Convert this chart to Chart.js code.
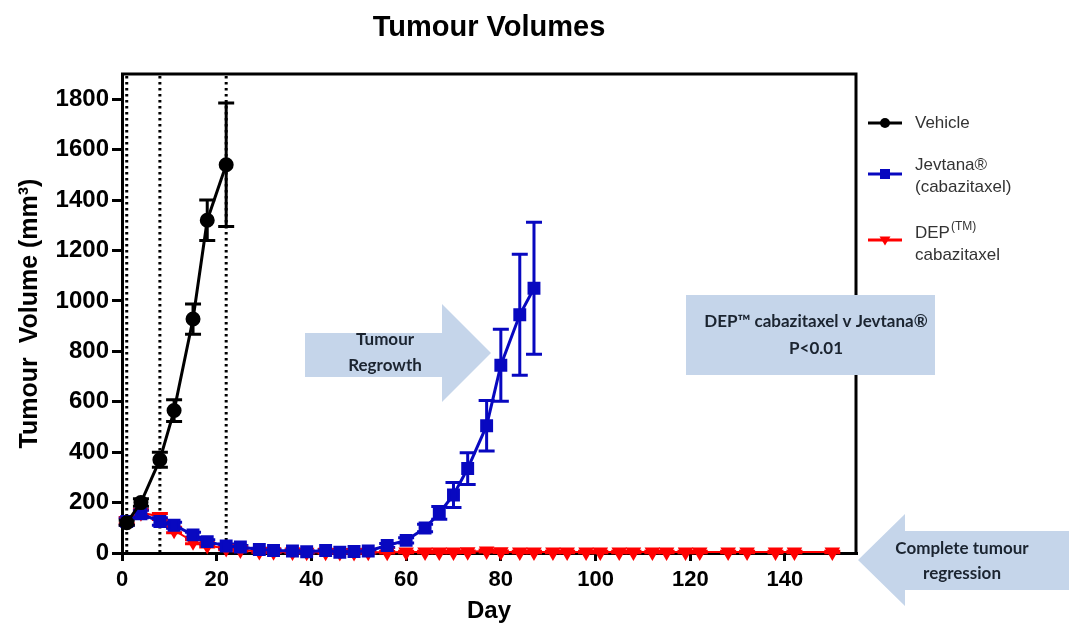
<!DOCTYPE html>
<html><head><meta charset="utf-8">
<script src="https://cdn.jsdelivr.net/npm/chart.js@4.4.0/dist/chart.umd.min.js"></script>
<style>html,body{margin:0;padding:0;background:#fff;}#wrap{position:relative;width:1069px;height:628px;}</style>
</head><body><div id="wrap"><canvas id="c" width="1069" height="628"></canvas></div>
<script>
// ---- data ----
const chartTitle = "Tumour Volumes";
const xTitle = "Day";
const yTitle = "Tumour  Volume (mm³)";
const treatmentDays = [1, 8, 22];

const vehicleDays = [1, 4, 8, 11, 15, 18, 22];
const vehicleVol  = [120, 200, 370, 565, 928, 1320, 1540];
const vehicleErr  = [10, 15, 30, 43, 60, 80, 245];

const jevDays = [1, 4, 8, 11, 15, 18, 22, 25, 29, 32, 36, 39, 43, 46, 49, 52, 56, 60, 64, 67, 70, 73, 77, 80, 84, 87];
const jevVol  = [125, 155, 125, 110, 72, 45, 28, 24, 14, 10, 8, 5, 10, 3, 6, 8, 30, 50, 99, 159, 230, 335, 505, 745, 945, 1050];
const jevErr  = [15, 15, 15, 12, 10, 8, 8, 6, 5, 5, 4, 4, 4, 3, 3, 4, 8, 10, 15, 25, 50, 63, 100, 143, 240, 262];

const depDays = [1, 4, 8, 11, 15, 18, 22, 25, 29, 32, 36, 39, 43, 46, 49, 52, 56, 60, 64, 67, 70, 73, 77, 80, 84, 87, 91, 94, 98, 101, 105, 108, 112, 115, 119, 122, 128, 132, 138, 142, 150];
const depVol  = [128, 160, 145, 90, 45, 30, 18, 12, 6, 5, 4, 3, 3, 2, 2, 3, 3, 4, 4, 4, 4, 5, 8, 5, 4, 4, 4, 4, 4, 4, 4, 4, 4, 4, 4, 4, 4, 4, 4, 4, 4];
const depErr  = [12, 12, 12, 10, 8, 6, 5, 4, 3, 3, 3, 3, 3, 3, 3, 3, 3, 3, 3, 3, 3, 3, 4, 3, 3, 3, 3, 3, 3, 3, 3, 3, 3, 3, 3, 3, 3, 3, 3, 3, 3];

const legendLabels = [["Vehicle"], ["Jevtana®", "(cabazitaxel)"], ["DEP", "cabazitaxel"]];

const annoRegrowth = ["Tumour", "Regrowth"];
const annoStats = ["DEP™ cabazitaxel v Jevtana®", "P<0.01"];
const annoComplete = ["Complete tumour", "regression"];

const FONT = "'Liberation Sans', Arial, sans-serif";
const toPts = (xs, ys) => xs.map((d, i) => ({x: d, y: ys[i]}));

// ---- plugins ----
const errorBars = {
  id: 'errorBars',
  beforeDatasetsDraw(chart) {
    const {ctx, scales: {x, y}} = chart;
    for (let i = chart.data.datasets.length - 1; i >= 0; i--) {
      const ds = chart.data.datasets[i];
      ctx.save();
      ctx.strokeStyle = ds.borderColor; ctx.lineWidth = 3;
      ds.data.forEach((p, j) => {
        const e = ds.errors[j];
        const px = x.getPixelForValue(p.x);
        const t = y.getPixelForValue(p.y + e), b = y.getPixelForValue(Math.max(0, p.y - e));
        ctx.beginPath();
        ctx.moveTo(px, t); ctx.lineTo(px, b);
        ctx.moveTo(px - 8, t); ctx.lineTo(px + 8, t);
        ctx.moveTo(px - 8, b); ctx.lineTo(px + 8, b);
        ctx.stroke();
      });
      ctx.restore();
    }
  }
};

const frame = {
  id: 'frame',
  beforeDatasetsDraw(chart) {
    const {ctx, chartArea: a, scales: {x}} = chart;
    ctx.save();
    ctx.strokeStyle = '#000'; ctx.lineWidth = 3;
    ctx.setLineDash([2.5, 3.5]);
    treatmentDays.forEach(d => {
      const px = x.getPixelForValue(d);
      ctx.beginPath(); ctx.moveTo(px, a.top + 2); ctx.lineTo(px, a.bottom); ctx.stroke();
    });
    ctx.setLineDash([]);
    ctx.beginPath();
    ctx.moveTo(a.left - 1, a.top); ctx.lineTo(a.right, a.top); ctx.lineTo(a.right, a.bottom);
    ctx.stroke();
    ctx.restore();
  }
};

function marker(ctx, style, cx, cy, r, color) {
  ctx.fillStyle = color;
  ctx.beginPath();
  if (style === 'circle') ctx.arc(cx, cy, r, 0, Math.PI * 2);
  else if (style === 'rect') ctx.rect(cx - r, cy - r, 2 * r, 2 * r);
  else { ctx.moveTo(cx - r * 1.1, cy - r * 0.7); ctx.lineTo(cx + r * 1.1, cy - r * 0.7); ctx.lineTo(cx, cy + r * 1.1); ctx.closePath(); }
  ctx.fill();
}

function rightArrow(ctx, x0, bodyTop, bodyBot, headX, headTop, headBot, tipX, tipY) {
  ctx.beginPath();
  ctx.moveTo(x0, bodyTop); ctx.lineTo(headX, bodyTop); ctx.lineTo(headX, headTop);
  ctx.lineTo(tipX, tipY); ctx.lineTo(headX, headBot); ctx.lineTo(headX, bodyBot);
  ctx.lineTo(x0, bodyBot); ctx.closePath(); ctx.fill();
}

const overlay = {
  id: 'overlay',
  afterDraw(chart) {
    const {ctx, chartArea: a} = chart;
    ctx.save();
    // title
    ctx.fillStyle = '#000';
    ctx.font = `bold 29px ${FONT}`;
    ctx.textAlign = 'center'; ctx.textBaseline = 'middle';
    ctx.fillText(chartTitle, (a.left + a.right) / 2, 28);

    // legend
    const ds = chart.data.datasets;
    const ys = [123, 174, 240];
    const lines = [[123], [165, 187], [233, 255]];
    ds.forEach((d, i) => {
      ctx.strokeStyle = d.borderColor; ctx.lineWidth = 3;
      ctx.beginPath(); ctx.moveTo(868, ys[i]); ctx.lineTo(902, ys[i]); ctx.stroke();
      marker(ctx, d.legendStyle, 885, ys[i], 5, d.borderColor);
      ctx.fillStyle = '#333';
      ctx.font = `17px ${FONT}`;
      ctx.textAlign = 'left'; ctx.textBaseline = 'middle';
      legendLabels[i].forEach((t, k) => ctx.fillText(t, 915, lines[i][k]));
    });
    // (TM) superscript after DEP
    ctx.font = `17px ${FONT}`;
    const w = ctx.measureText(legendLabels[2][0]).width;
    ctx.font = `12px ${FONT}`;
    ctx.fillText("(TM)", 915 + w + 1, 227);

    // annotations
    const fill = '#c5d5ea';
    ctx.fillStyle = fill;
    rightArrow(ctx, 305, 333, 377, 442, 304, 402, 491, 353);
    ctx.fillRect(686, 295, 249, 80);
    // left arrow (complete regression)
    ctx.beginPath();
    ctx.moveTo(1069, 531); ctx.lineTo(905, 531); ctx.lineTo(905, 514);
    ctx.lineTo(858, 560); ctx.lineTo(905, 606); ctx.lineTo(905, 590);
    ctx.lineTo(1069, 590); ctx.closePath(); ctx.fill();

    ctx.fillStyle = '#1b2430';
    ctx.font = `bold 17px Lato, 'Open Sans', sans-serif`;
    ctx.textAlign = 'center'; ctx.textBaseline = 'middle';
    ctx.fillText(annoRegrowth[0], 385, 340);
    ctx.fillText(annoRegrowth[1], 385, 366);
    ctx.fillText(annoStats[0], 816, 322);
    ctx.fillText(annoStats[1], 816, 349);
    ctx.fillText(annoComplete[0], 962, 549);
    ctx.fillText(annoComplete[1], 962, 574);
    ctx.restore();
  }
};

// ---- chart ----
new Chart(document.getElementById('c'), {
  type: 'scatter',
  data: {
    datasets: [
      {label: 'Vehicle', data: toPts(vehicleDays, vehicleVol), errors: vehicleErr, legendStyle: 'circle',
       showLine: true, borderColor: '#000000', backgroundColor: '#000000', borderWidth: 3,
       pointStyle: 'circle', pointRadius: 6, pointHoverRadius: 6, clip: false},
      {label: 'Jevtana® (cabazitaxel)', data: toPts(jevDays, jevVol), errors: jevErr, legendStyle: 'rect',
       showLine: true, borderColor: '#0808c0', backgroundColor: '#0808c0', borderWidth: 3,
       pointStyle: 'rect', pointRadius: 7, pointHoverRadius: 7, clip: false},
      {label: 'DEP(TM) cabazitaxel', data: toPts(depDays, depVol), errors: depErr, legendStyle: 'tri',
       showLine: true, borderColor: '#ff0000', backgroundColor: '#ff0000', borderWidth: 2,
       pointStyle: 'triangle', rotation: 180, pointRadius: 7, pointHoverRadius: 7, clip: false}
    ]
  },
  options: {
    responsive: false, animation: false, devicePixelRatio: 1,
    layout: {padding: {top: 74, right: 213, left: 0, bottom: 0}},
    plugins: {legend: {display: false}, title: {display: false}, tooltip: {enabled: false}},
    elements: {line: {tension: 0}},
    scales: {
      x: {
        type: 'linear', min: 0, max: 155,
        afterFit(s) { s.height = 75; },
        border: {display: true, color: '#000', width: 3},
        grid: {drawOnChartArea: false, color: '#000', lineWidth: 3, tickLength: 8},
        ticks: {stepSize: 20, includeBounds: false, color: '#000', padding: 6,
                callback: v => String(v),
                font: {family: FONT, size: 22, weight: 'bold'}},
        title: {display: true, text: xTitle, color: '#000', padding: {top: 0, bottom: 2},
                font: {family: FONT, size: 24, weight: 'bold'}}
      },
      y: {
        type: 'linear', min: 0, max: 1900,
        afterFit(s) { s.width = 122; },
        border: {display: true, color: '#000', width: 3},
        grid: {drawOnChartArea: false, color: '#000', lineWidth: 3, tickLength: 10},
        ticks: {stepSize: 200, includeBounds: false, color: '#000', padding: 3,
                callback: v => String(v),
                font: {family: FONT, size: 24, weight: 'bold'}},
        title: {display: true, text: yTitle, color: '#000', padding: {top: 15, bottom: 0},
                font: {family: FONT, size: 25, weight: 'bold'}}
      }
    }
  },
  plugins: [frame, errorBars, overlay]
});
</script></body></html>
